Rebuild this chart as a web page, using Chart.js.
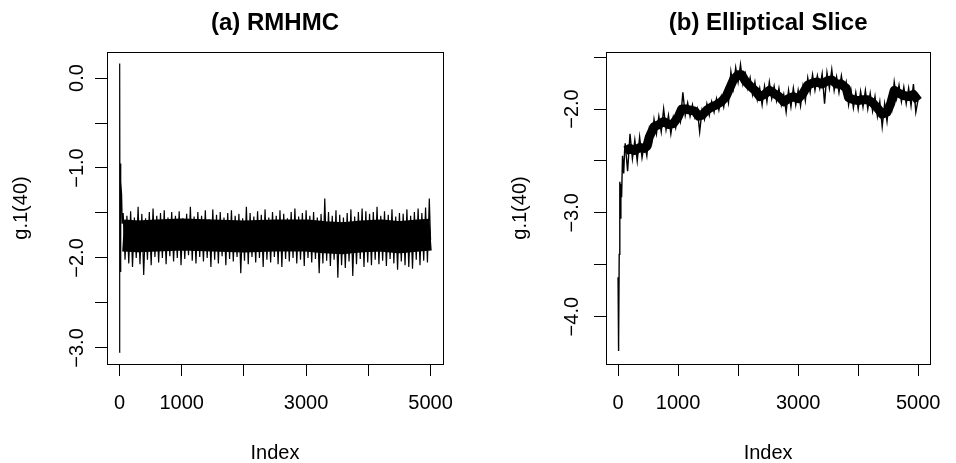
<!DOCTYPE html>
<html><head><meta charset="utf-8">
<script src="https://cdn.jsdelivr.net/npm/chart.js@4/dist/chart.umd.min.js"></script>
<style>
html,body{margin:0;padding:0;background:#fff;overflow:hidden}
#wrap{position:relative;width:956px;height:463px;background:#fff}
.c{position:absolute;top:0;width:478px;height:463px}
</style></head>
<body>
<div id="wrap">
  <div class="c" style="left:0"><canvas id="chartA" width="478" height="463"></canvas></div>
  <div class="c" style="left:478px"><canvas id="chartB" width="478" height="463"></canvas></div>
</div>
<script>
// ---------- data: (a) RMHMC trace of g.1(40) ----------
const rmhmcHeadIndex = [1, 4, 9, 16, 25, 35, 45];
const rmhmcHeadValues = [-3.05, 0.16, -2.15, -0.95, -1.15, -1.30, -1.62];
const rmhmcBandStart = 60;
const rmhmcBandStep = 30;
const rmhmcBandValues = [
  -1.50, -2.02, -1.53, -2.06, -1.48, -2.10, -1.55, -2.00, -1.43, -2.07,
  -1.51, -2.19, -1.56, -2.02, -1.49, -2.08, -1.45, -1.99, -1.53, -2.05,
  -1.50, -2.00, -1.47, -2.07, -1.55, -1.98, -1.49, -2.04, -1.53, -2.00,
  -1.48, -2.08, -1.56, -2.01, -1.51, -1.97, -1.43, -2.03, -1.54, -2.06,
  -1.49, -1.99, -1.53, -2.04, -1.47, -2.00, -1.57, -2.10, -1.46, -2.02,
  -1.52, -2.06, -1.49, -1.98, -1.55, -2.08, -1.50, -2.01, -1.47, -2.04,
  -1.53, -1.99, -1.51, -2.17, -1.56, -2.03, -1.43, -2.07, -1.50, -1.99,
  -1.54, -2.05, -1.48, -2.00, -1.52, -2.10, -1.46, -2.02, -1.55, -2.05,
  -1.49, -1.99, -1.53, -2.07, -1.47, -2.10, -1.51, -2.01, -1.56, -2.04,
  -1.49, -2.00, -1.45, -2.06, -1.54, -2.02, -1.50, -2.09, -1.47, -2.00,
  -1.53, -2.05, -1.49, -2.01, -1.55, -2.17, -1.51, -2.06, -1.34, -2.03,
  -1.49, -2.09, -1.53, -2.02, -1.47, -2.22, -1.52, -2.08, -1.55, -2.11,
  -1.50, -2.04, -1.46, -2.20, -1.54, -2.07, -1.49, -2.01, -1.45, -2.10,
  -1.48, -2.05, -1.51, -2.08, -1.49, -2.02, -1.43, -2.07, -1.53, -2.03,
  -1.48, -2.09, -1.52, -2.01, -1.46, -2.06, -1.54, -2.13, -1.50, -2.04,
  -1.51, -2.08, -1.46, -2.10, -1.53, -2.12, -1.49, -2.02, -1.45, -2.08,
  -1.50, -2.03, -1.44, -2.05, -1.34
];
const rmhmcTailIndex = [5000];
const rmhmcTailValues = [-1.80];
// dense solid core of the RMHMC trace (centre of the black band)
const rmhmcCoreIndex = [60, 300, 600, 1000, 1500, 2000, 2500, 3000, 3300, 3600, 3900, 4200, 4500, 4800, 5000];
const rmhmcCoreValues = [-1.75, -1.76, -1.75, -1.74, -1.75, -1.76, -1.75, -1.75, -1.77, -1.78, -1.76, -1.75, -1.77, -1.75, -1.74];

// ---------- data: (b) Elliptical Slice trace of g.1(40) ----------
const ellHeadIndex = [1, 6, 14, 20, 30, 38, 48, 60, 75, 95, 110];
const ellHeadValues = [-3.62, -4.33, -4.25, -3.40, -2.70, -3.05, -2.72, -2.85, -2.45, -2.62, -2.40];
const ellBandStart = 120;
const ellBandStep = 40;
const ellBandValues = [
  -2.33, -2.60, -2.24, -2.48, -2.30, -2.50, -2.27, -2.47, -2.33, -2.45,
  -2.20, -2.33, -2.10, -2.24, -2.07, -2.22, -2.00, -2.20, -2.06, -2.24,
  -2.08, -2.18, -2.03, -2.12, -1.84, -2.06, -1.94, -2.07, -1.96, -2.08,
  -2.00, -2.22, -2.01, -2.10, -1.95, -2.06, -1.93, -2.03, -1.90, -2.01,
  -1.88, -1.98, -1.82, -1.94, -1.64, -1.80, -1.60, -1.74, -1.57, -1.76,
  -1.66, -1.80, -1.70, -1.86, -1.74, -1.91, -1.80, -1.96, -1.78, -1.93,
  -1.74, -1.90, -1.78, -1.92, -1.80, -1.96, -1.86, -2.03, -1.82, -1.98,
  -1.80, -1.96, -1.82, -1.97, -1.78, -1.92, -1.70, -1.84, -1.67, -1.82,
  -1.68, -1.80, -1.66, -1.95, -1.65, -1.80, -1.62, -1.82, -1.69, -1.84,
  -1.68, -1.83, -1.74, -1.96, -1.82, -1.99, -1.84, -2.00, -1.83, -1.98,
  -1.82, -2.00, -1.85, -2.02, -1.88, -2.07, -1.93, -2.17, -1.95, -2.12,
  -1.90, -2.00, -1.74, -1.90, -1.77, -1.93, -1.79, -1.95, -1.80, -1.97,
  -1.76, -2.03, -1.90
];
// solid core (running centre) of the Elliptical Slice trace
const ellCoreIndex = [120, 200, 280, 360, 440, 480, 520, 560, 600, 680, 760, 840, 920, 1000, 1060,
  1120, 1200, 1280, 1340, 1400, 1480, 1560, 1640, 1720, 1800, 1860, 1920, 2000, 2060, 2120,
  2200, 2280, 2360, 2440, 2520, 2600, 2680, 2760, 2840, 2920, 3000, 3080, 3160, 3240, 3320,
  3400, 3480, 3560, 3640, 3720, 3800, 3840, 3920, 4000, 4080, 4160, 4240, 4320, 4400, 4480,
  4540, 4600, 4680, 4760, 4840, 4920, 5000];
const ellCoreValues = [-2.40, -2.38, -2.40, -2.37, -2.38, -2.36, -2.27, -2.22, -2.17, -2.15, -2.12, -2.15, -2.14, -2.08, -2.00,
  -2.00, -2.01, -2.02, -2.07, -2.06, -2.01, -1.98, -1.96, -1.93, -1.88, -1.80, -1.72, -1.67, -1.67, -1.73,
  -1.78, -1.82, -1.88, -1.86, -1.82, -1.85, -1.88, -1.93, -1.90, -1.88, -1.90, -1.85, -1.77, -1.75, -1.74,
  -1.76, -1.73, -1.72, -1.76, -1.76, -1.80, -1.89, -1.91, -1.92, -1.91, -1.91, -1.94, -1.99, -2.05, -2.03,
  -1.95, -1.82, -1.85, -1.87, -1.88, -1.86, -1.92];

// ---------- axes ----------
const xTicks = [0, 1000, 2000, 3000, 4000, 5000];
const xTickLabels = [0, 1000, 3000, 5000];
const rmhmcYTicks = [-3.0, -2.5, -2.0, -1.5, -1.0, -0.5, 0.0];
const rmhmcYLabels = [-3.0, -2.0, -1.0, 0.0];
const ellYTicks = [-4.0, -3.5, -3.0, -2.5, -2.0, -1.5];
const ellYLabels = [-4.0, -3.0, -2.0];
const xRange = [-199.96, 5199.96];
const rmhmcYRange = [-3.178, 0.289];
const ellYRange = [-4.456, -1.451];

const FONT = '"Liberation Sans", Arial, Helvetica, sans-serif';

function buildPoints(hi, hv, start, step, band, ti, tv) {
  const pts = [];
  hi.forEach((x, i) => pts.push({x: x, y: hv[i]}));
  band.forEach((v, k) => pts.push({x: start + k * step, y: v}));
  (ti || []).forEach((x, i) => pts.push({x: x, y: tv[i]}));
  return pts;
}
function pairPoints(xs, ys) {
  return xs.map((x, i) => ({x: x, y: ys[i]}));
}
function fmt(v) {
  return v.toFixed(1).replace('-', '\u2212');
}

const rPlugin = {
  id: 'rstyle',
  afterDraw(chart, args, opts) {
    const {ctx, chartArea: a} = chart;
    const y = chart.scales.y;
    ctx.save();
    ctx.strokeStyle = '#000';
    ctx.lineWidth = 1;
    ctx.strokeRect(Math.round(a.left) + 0.5, Math.round(a.top) + 0.5,
                   Math.round(a.right - a.left), Math.round(a.bottom - a.top));
    ctx.fillStyle = '#000';
    ctx.textAlign = 'center';
    ctx.textBaseline = 'middle';
    ctx.font = 'bold 24px ' + FONT;
    ctx.fillText(opts.title, (a.left + a.right) / 2, opts.titleY);
    ctx.font = '20px ' + FONT;
    opts.yLabels.forEach(v => {
      const py = y.getPixelForValue(v);
      ctx.save();
      ctx.translate(opts.yLabelX, py);
      ctx.rotate(-Math.PI / 2);
      ctx.fillText(fmt(v), 0, 0);
      ctx.restore();
    });
    ctx.restore();
  }
};

function makeChart(id, cfg) {
  return new Chart(document.getElementById(id), {
    type: 'line',
    data: {
      datasets: [{
        data: cfg.points,
        borderColor: '#000',
        borderWidth: cfg.lineWidth,
        pointRadius: 0,
        tension: 0,
        fill: false
      }, {
        data: cfg.core,
        borderColor: '#000',
        borderWidth: cfg.coreWidth,
        borderCapStyle: 'butt',
        borderJoinStyle: 'round',
        pointRadius: 0,
        tension: 0,
        fill: false
      }]
    },
    options: {
      responsive: false,
      animation: false,
      events: [],
      layout: {padding: {top: 52, right: cfg.rightPad, left: 0, bottom: 0}},
      plugins: {
        legend: {display: false},
        tooltip: {enabled: false},
        title: {display: false},
        rstyle: {title: cfg.title, titleY: 23, yLabels: cfg.yLabels, yLabelX: cfg.yLabelX}
      },
      scales: {
        x: {
          type: 'linear',
          min: xRange[0], max: xRange[1],
          afterBuildTicks: s => { s.ticks = xTicks.map(v => ({value: v})); },
          afterFit: s => { s.height = 99; },
          grid: {display: true, drawOnChartArea: false, drawTicks: true, tickLength: 12, color: '#000', lineWidth: 1},
          border: {display: false},
          ticks: {
            color: '#000', padding: 15, maxRotation: 0, autoSkip: false,
            font: {family: FONT, size: 20},
            callback: v => xTickLabels.includes(v) ? String(v) : ''
          },
          title: {display: true, text: 'Index', color: '#000', font: {family: FONT, size: 20}, padding: {top: 0, bottom: -2}}
        },
        y: {
          type: 'linear',
          min: cfg.yRange[0], max: cfg.yRange[1],
          afterBuildTicks: s => { s.ticks = cfg.yTicks.map(v => ({value: v})); },
          afterFit: s => { s.width = cfg.yWidth; },
          grid: {display: true, drawOnChartArea: false, drawTicks: true, tickLength: 12, color: '#000', lineWidth: 1},
          border: {display: false},
          ticks: {display: false},
          title: {display: true, text: 'g.1(40)', color: '#000', font: {family: FONT, size: 20}, padding: {top: cfg.yTitlePad, bottom: 0}}
        }
      }
    },
    plugins: [rPlugin]
  });
}

makeChart('chartA', {
  points: buildPoints(rmhmcHeadIndex, rmhmcHeadValues, rmhmcBandStart, rmhmcBandStep, rmhmcBandValues, rmhmcTailIndex, rmhmcTailValues),
  core: pairPoints(rmhmcCoreIndex, rmhmcCoreValues), coreWidth: 32, lineWidth: 1.2,
  title: '(a) RMHMC',
  yRange: rmhmcYRange, yTicks: rmhmcYTicks, yLabels: rmhmcYLabels,
  yWidth: 107, rightPad: 35, yLabelX: 77, yTitlePad: 9
});

makeChart('chartB', {
  points: buildPoints(ellHeadIndex, ellHeadValues, ellBandStart, ellBandStep, ellBandValues),
  core: pairPoints(ellCoreIndex, ellCoreValues), coreWidth: 9, lineWidth: 1.4,
  title: '(b) Elliptical Slice',
  yRange: ellYRange, yTicks: ellYTicks, yLabels: ellYLabels,
  yWidth: 128, rightPad: 14, yLabelX: 94, yTitlePad: 30
});
</script>
</body></html>
